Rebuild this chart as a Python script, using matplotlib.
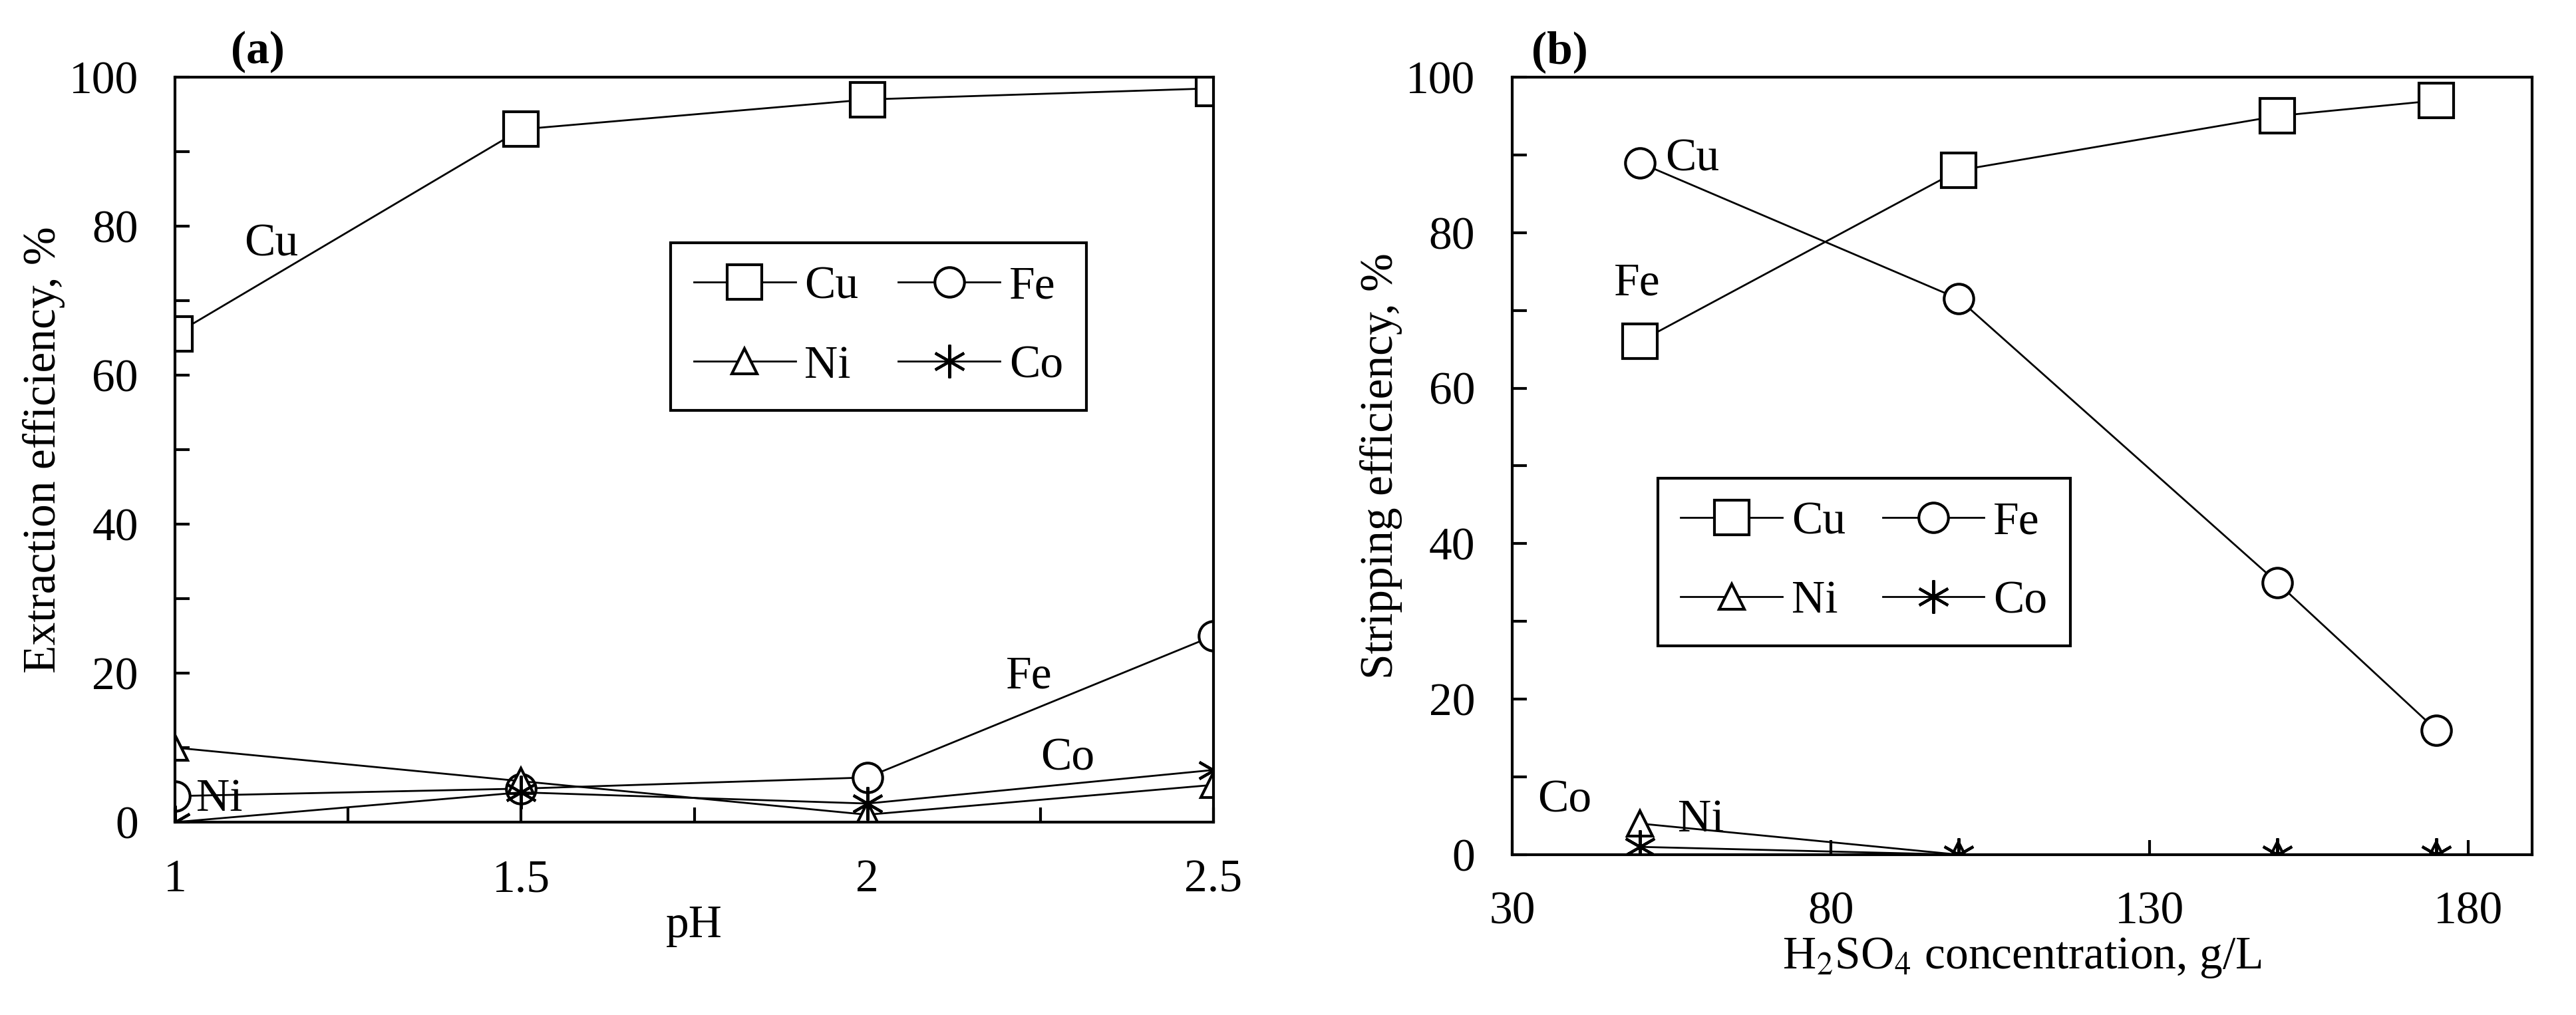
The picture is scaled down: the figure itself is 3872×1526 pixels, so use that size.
import matplotlib
matplotlib.use('Agg')
import matplotlib.pyplot as plt
from matplotlib.ticker import MultipleLocator, FixedLocator

plt.rcParams['font.family'] = ['Liberation Serif', 'DejaVu Serif']
plt.rcParams['mathtext.fontset'] = 'stix'

# panel (a): extraction vs pH
ph = [1, 1.5, 2, 2.5]
cu_a = [65.5, 93, 97, 98.5]
fe_a = [3.5, 4.5, 6, 25]
ni_a = [10, 5.5, 1, 5]
co_a = [0, 4, 2.5, 7]

# panel (b): stripping vs H2SO4 concentration
conc = [50, 100, 150, 175]
cu_b = [66, 88, 95, 97]
fe_b = [89, 71.5, 35, 16]
ni_b = [4, 0, 0, 0]
co_b = [1, 0, 0, 0]

fs = 50
fig = plt.figure(figsize=(38.72, 15.26), dpi=100)
ax1 = fig.add_axes([0.068, 0.19, 0.403, 0.734])
ax2 = fig.add_axes([0.587, 0.158, 0.396, 0.766])

def draw(ax, x, cu, fe, ni, co):
    kw = dict(color='black', lw=2, mfc='white', mec='black', mew=3)
    a = ax.plot(x, cu, marker='s', ms=38, label='Cu', **kw)[0]
    b = ax.plot(x, fe, marker='o', ms=32, label='Fe', **kw)[0]
    c = ax.plot(x, ni, marker='^', ms=28, label='Ni', **kw)[0]
    d = ax.plot(x, co, marker=(6, 2, 0), ms=36, label='Co', **kw)[0]
    # column-wise filling -> rows read Cu Fe / Ni Co
    return [a, c, b, d], ['Cu', 'Ni', 'Fe', 'Co']

h, l = draw(ax1, ph, cu_a, fe_a, ni_a, co_a)
draw(ax2, conc, cu_b, fe_b, ni_b, co_b)

for ax in (ax1, ax2):
    for s in ax.spines.values():
        s.set_linewidth(3)
    ax.tick_params(direction='in', length=16, width=3, labelsize=fs, pad=40)
    ax.tick_params(which='minor', direction='in', length=16, width=3)
    ax.set_ylim(0, 100)
    ax.yaxis.set_major_locator(MultipleLocator(20))
    ax.yaxis.set_minor_locator(MultipleLocator(10))

ax1.set_xlim(1, 2.5)
ax1.xaxis.set_major_locator(MultipleLocator(0.5))
ax1.xaxis.set_minor_locator(MultipleLocator(0.25))
ax1.xaxis.set_major_formatter(plt.FuncFormatter(lambda v, p: f'{v:g}'))
ax1.set_xlabel('pH', fontsize=fs)
ax1.set_ylabel('Extraction efficiency, %', fontsize=fs)
ax1.text(1.08, 100.5, '(a)', fontsize=fs, fontweight='bold', va='bottom')
ax1.text(1.1, 76, 'Cu', fontsize=fs)
ax1.text(2.2, 18, 'Fe', fontsize=fs)
ax1.text(2.25, 7, 'Co', fontsize=fs)
ax1.text(1.03, 1.5, 'Ni', fontsize=fs)

ax2.set_xlim(30, 190)
ax2.xaxis.set_major_locator(FixedLocator([30, 80, 130, 180]))
ax2.set_xlabel('H$_2$SO$_4$ concentration, g/L', fontsize=fs, labelpad=2)
ax2.set_ylabel('Stripping efficiency, %', fontsize=fs)
ax2.text(33, 100.5, '(b)', fontsize=fs, fontweight='bold', va='bottom')
ax2.text(54, 88, 'Cu', fontsize=fs)
ax2.text(46, 72, 'Fe', fontsize=fs)
ax2.text(34, 5.5, 'Co', fontsize=fs)
ax2.text(56, 3, 'Ni', fontsize=fs)

for ax, loc in ((ax1, (0.455, 0.53, 0.445, 0.27)), (ax2, (0.12, 0.267, 0.45, 0.219))):
    leg = ax.legend(h, l, ncol=2, fontsize=fs, frameon=True, fancybox=False,
                    edgecolor='black', framealpha=1, handlelength=2.2,
                    columnspacing=1.0, handletextpad=0.2, borderpad=0.5,
                    labelspacing=0.8, bbox_to_anchor=loc, loc='center', mode='expand')
    leg.get_frame().set_linewidth(3)

fig.savefig('out.png', dpi=100)
